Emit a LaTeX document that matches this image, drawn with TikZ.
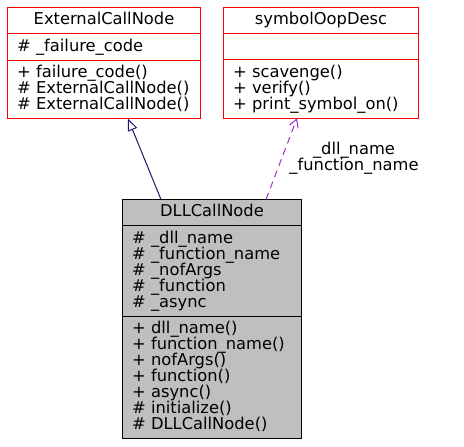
\documentclass[tikz,border=0pt]{standalone}
\usepackage{fontspec}
\setmainfont{DejaVu Sans}
\usepackage{xcolor}
\usepackage{tikz}
\usetikzlibrary{arrows.meta, positioning}

\definecolor{inhcolor}{HTML}{191970}
\definecolor{usecolor}{HTML}{9A32CD}
\newcommand{\umlline}{\rule[-4pt]{0pt}{16pt}}
\newcommand{\umlfont}{\fontsize{16.3}{16}\selectfont\lineskiplimit=-8pt\relax}

\begin{document}
\begin{tikzpicture}[
        x=1pt, y=-1pt,
        node distance=0pt,
        compartment/.style={
            draw=red,
            rectangle,
            fill=white,
            line width=1pt,
            align=left,
            inner xsep=9.5pt,
            inner ysep=5pt,
            outer sep=0pt,
            font=\umlfont
        },
        classname/.style={
            compartment,
            align=center
        },
        mainpart/.style={
            draw=black,
            fill=black!25
        },
        inherit/.style={
            -{Triangle[open, length=12pt, width=10pt]},
            draw=inhcolor,
            line width=1pt
        },
        uses/.style={
            -{Straight Barb[length=8pt, width=9pt]},
            draw=usecolor,
            dash pattern=on 7pt off 5pt,
            line width=1pt
        },
        edgelabel/.style={
            align=center,
            font=\umlfont,
            inner sep=0pt
        }
    ]
        \useasboundingbox (0,0) rectangle (464,447);

        % Base class ExternalCallNode
        \node (ext) [classname, text width=174pt, anchor=north west] at (7.5,7.5)
            {\umlline ExternalCallNode};
        \node (extattr) [compartment, text width=174pt, below=of ext]
            {\umlline \# \_failure\_code};
        \node (extops) [compartment, text width=174pt, below=of extattr]
            {\umlline + failure\_code()\\\umlline \# ExternalCallNode()\\\umlline \# ExternalCallNode()};

        % Base class symbolOopDesc
        \node (sym) [classname, text width=176pt, anchor=north west] at (223.5,7.5)
            {\umlline symbolOopDesc};
        \node (symattr) [compartment, text width=176pt, below=of sym]
            {\umlline};
        \node (symops) [compartment, text width=176pt, below=of symattr]
            {\umlline + scavenge()\\\umlline + verify()\\\umlline + print\_symbol\_on()};

        % Derived class DLLCallNode
        \node (dll) [classname, mainpart, text width=160pt, anchor=north west] at (122.5,199.5)
            {\umlline DLLCallNode};
        \node (dllattr) [compartment, mainpart, text width=160pt, below=of dll]
            {\umlline \# \_dll\_name\\\umlline \# \_function\_name\\\umlline \# \_nofArgs\\\umlline \# \_function\\\umlline \# \_async};
        \node (dllops) [compartment, mainpart, text width=160pt, below=of dllattr]
            {\umlline + dll\_name()\\\umlline + function\_name()\\\umlline + nofArgs()\\\umlline + function()\\\umlline + async()\\\umlline \# initialize()\\\umlline \# DLLCallNode()};

        % Connections
        \draw [inherit] ([xshift=38.5pt]dll.north west) -- ([xshift=120.5pt]extops.south west);
        \draw [uses] ([xshift=143.5pt]dll.north west) -- ([xshift=73.5pt]symops.south west);
        \node (lbl) [edgelabel] at (354,158) {\_dll\_name\\\_function\_name};
    \end{tikzpicture}
\end{document}
